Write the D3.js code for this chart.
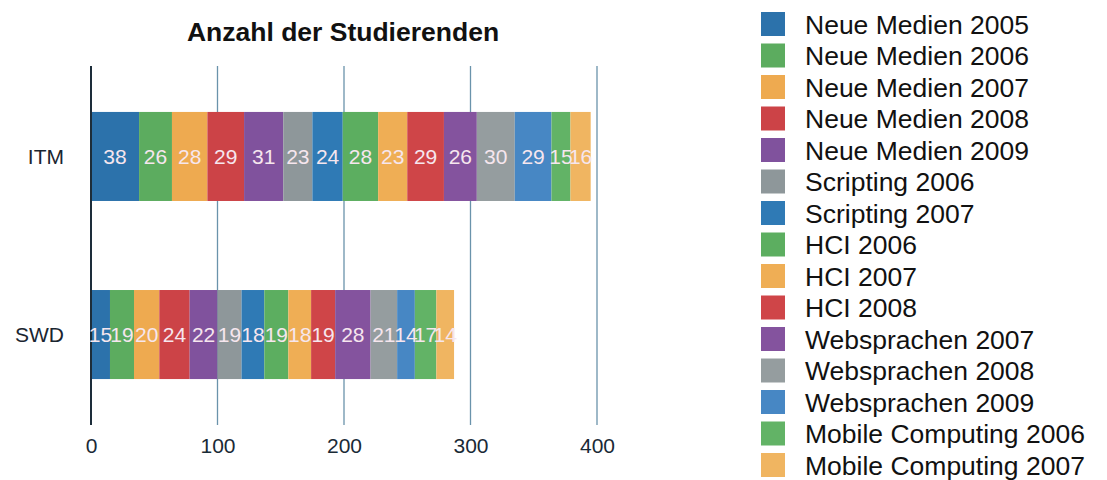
<!DOCTYPE html>
<html>
<head>
<meta charset="utf-8">
<script src="https://cdn.jsdelivr.net/npm/d3@7"></script>
<style>
  html, body { margin: 0; padding: 0; background: #fff; }
  svg { display: block; font-family: "Liberation Sans", Arial, Helvetica, sans-serif; }
</style>
</head>
<body>
<svg id="chart" width="1107" height="480"></svg>
<script>
// Studiengänge (rows) and courses (stacked segments)
const categories = ["ITM", "SWD"];
const courses = [
  "Neue Medien 2005", "Neue Medien 2006", "Neue Medien 2007", "Neue Medien 2008",
  "Neue Medien 2009", "Scripting 2006", "Scripting 2007", "HCI 2006", "HCI 2007",
  "HCI 2008", "Websprachen 2007", "Websprachen 2008", "Websprachen 2009",
  "Mobile Computing 2006", "Mobile Computing 2007"
];
const itmValues = [38, 26, 28, 29, 31, 23, 24, 28, 23, 29, 26, 30, 29, 15, 16];
const swdValues = [15, 19, 20, 24, 22, 19, 18, 19, 18, 19, 28, 21, 14, 17, 14];
const tickValues = [0, 100, 200, 300, 400];
const courseColors = [
  "#2c72ab", "#5cac5f", "#eeaa50", "#cc4347", "#80529d", "#8e979a",
  "#2f7ab5", "#5cae60", "#efae55", "#cf4548", "#84539e", "#959d9f",
  "#4787c4", "#62b366", "#f0b561"
];

const svg = d3.select("#chart");

// table built for the stack layout
const rows = categories.map((c, i) => {
  const vals = i === 0 ? itmValues : swdValues;
  const r = { category: c };
  courses.forEach((k, j) => { r[k] = vals[j]; });
  return r;
});
const series = d3.stack().keys(courses)(rows);

const x = d3.scaleLinear().domain([0, 400]).range([91, 597]);
const y = d3.scaleBand().domain(categories).range([66, 425])
  .paddingInner(0.5).paddingOuter(0.258);
const color = d3.scaleOrdinal().domain(courses).range(courseColors);

// title
svg.append("text")
  .attr("x", 343).attr("y", 41)
  .attr("text-anchor", "middle")
  .attr("font-weight", "bold")
  .attr("font-size", 26.5)
  .attr("fill", "#111")
  .text("Anzahl der Studierenden");

// vertical grid lines
svg.append("g").selectAll("line")
  .data(tickValues.filter(d => d !== 0))
  .join("line")
  .attr("x1", d => x(d)).attr("x2", d => x(d))
  .attr("y1", 66).attr("y2", 425)
  .attr("stroke", "#6a93ab").attr("stroke-width", 1.3);

// stacked segments
const layer = svg.append("g").selectAll("g")
  .data(series)
  .join("g")
  .attr("fill", d => color(d.key));

layer.selectAll("rect")
  .data(d => d)
  .join("rect")
  .attr("x", d => x(d[0]))
  .attr("y", d => y(d.data.category))
  .attr("width", d => x(d[1]) - x(d[0]))
  .attr("height", y.bandwidth());

// zero axis line
svg.append("line")
  .attr("x1", x(0)).attr("x2", x(0))
  .attr("y1", 66).attr("y2", 425)
  .attr("stroke", "#1d2d3a").attr("stroke-width", 2);

// value labels inside segments
svg.append("g").selectAll("g")
  .data(series)
  .join("g")
  .selectAll("text")
  .data(d => d)
  .join("text")
  .attr("x", d => (x(d[0]) + x(d[1])) / 2)
  .attr("y", d => y(d.data.category) + y.bandwidth() / 2)
  .attr("dy", "0.35em")
  .attr("text-anchor", "middle")
  .attr("font-size", 21)
  .attr("fill", "#f6e6ee")
  .text(d => d[1] - d[0]);

// category labels
svg.append("g").selectAll("text")
  .data(categories)
  .join("text")
  .attr("x", 64)
  .attr("y", d => y(d) + y.bandwidth() / 2)
  .attr("dy", "0.35em")
  .attr("text-anchor", "end")
  .attr("font-size", 21)
  .attr("fill", "#1a2530")
  .text(d => d);

// x axis tick labels
const xAxis = d3.axisBottom(x).tickValues(tickValues).tickSize(0).tickPadding(0);
const gx = svg.append("g").attr("transform", "translate(0,438)").call(xAxis);
gx.select(".domain").remove();
gx.selectAll("text")
  .attr("font-size", 21)
  .attr("font-family", "'Liberation Sans', Arial, sans-serif")
  .attr("fill", "#1a2a36")
  .attr("dy", "0.71em");

// legend
const legend = svg.append("g").selectAll("g")
  .data(courses)
  .join("g")
  .attr("transform", (d, i) => `translate(761,${12 + i * 31.5})`);
legend.append("rect")
  .attr("width", 24).attr("height", 24)
  .attr("fill", d => color(d));
legend.append("text")
  .attr("x", 44).attr("y", 12)
  .attr("dy", "0.36em")
  .attr("font-size", 26.5)
  .attr("fill", "#111")
  .text(d => d);
</script>
</body>
</html>
